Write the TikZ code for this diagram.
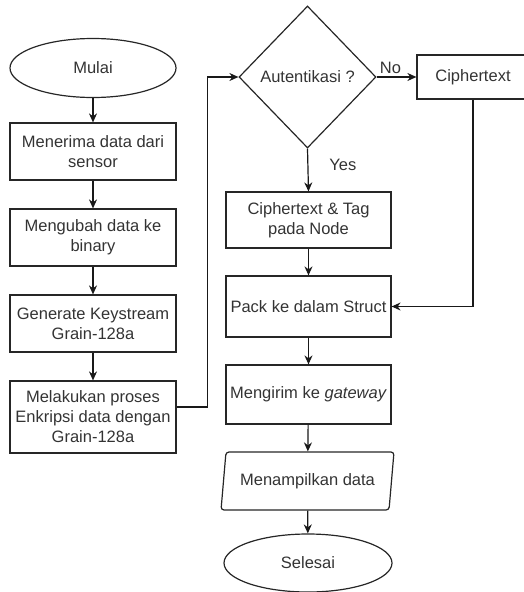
\documentclass[tikz,border=0pt]{standalone}
\usepackage{fontspec}
\setmainfont{Liberation Sans}
\usepackage{tikz}
\usetikzlibrary{arrows.meta,shapes.geometric}

\begin{document}
\begin{tikzpicture}[x=1pt, y=-1pt, line width=1.2pt,
  font=\fontsize{16.5}{20}\selectfont,
  >={Stealth[length=9pt,width=8pt]},
  every node/.style={text=black!80, align=center, inner sep=0pt},
  terminal/.style={draw=black!85, ellipse, minimum width=166pt, minimum height=59pt},
  proses/.style={draw=black!85, rectangle, minimum width=166pt, minimum height=57pt},
  keputusan/.style={draw=black!85, diamond, minimum width=137pt, minimum height=142pt},
  io/.style={draw=black!85, trapezium, trapezium left angle=75, trapezium right angle=105,
    trapezium stretches=true, minimum width=173pt, minimum height=58pt, rounded corners=3pt},
  garis/.style={->, draw=black!90}]
\useasboundingbox (0,0) rectangle (523,592);
%%%%% Kolom kiri %%%%%
\node[terminal] (mulai) at (93,68) {Mulai};
\node[proses] (terima) at (93,151.5) {Menerima data dari\\sensor};
\node[proses] (ubah) at (93,237.5) {Mengubah data ke\\binary};
\node[proses] (keystream) at (93,323.5) {Generate Keystream\\Grain-128a};
\node[proses, minimum height=72pt] (enkripsi) at (93,417) {Melakukan proses\\Enkripsi data dengan\\Grain-128a};
%%%%% Kolom kanan %%%%%
\node[keputusan] (auth) at (307.5,77) {Autentikasi ?};
\node[proses, minimum width=112pt, minimum height=44pt] (cipher) at (473,77) {Ciphertext};
\node[proses, minimum width=165pt, minimum height=56pt] (tag) at (308.5,220) {Ciphertext \& Tag\\pada Node};
\node[proses, minimum width=165pt, minimum height=61pt] (pack) at (308.5,306.5) {Pack ke dalam Struct};
\node[proses, minimum width=165pt, minimum height=59pt] (kirim) at (308.5,394.5) {Mengirim ke \textit{gateway}};
\node[io] (tampil) at (307.5,481) {Menampilkan data};
\node[terminal, minimum width=168pt, minimum height=58pt] (selesai) at (308,563) {Selesai};
%%%%% Panah %%%%%
\draw[garis] (mulai) -- (terima);
\draw[garis] (terima) -- (ubah);
\draw[garis] (ubah) -- (keystream);
\draw[garis] (keystream) -- (enkripsi);
\draw[garis] ([yshift=10pt]enkripsi.east) -- ++(31,0) |- (auth.west);
\draw[garis] (auth.east) -- node[above, pos=0.35, yshift=3pt] {No} (cipher.west);
\draw[garis] (auth.south) -- node[right, pos=0.37, xshift=21pt] {Yes} (tag.north);
\draw[garis] (tag) -- (pack);
\draw[garis] (cipher.south) |- (pack.east);
\draw[garis] (pack) -- (kirim);
\draw[garis] (kirim) -- (tampil);
\draw[garis] (tampil) -- (selesai);
\end{tikzpicture}
\end{document}
